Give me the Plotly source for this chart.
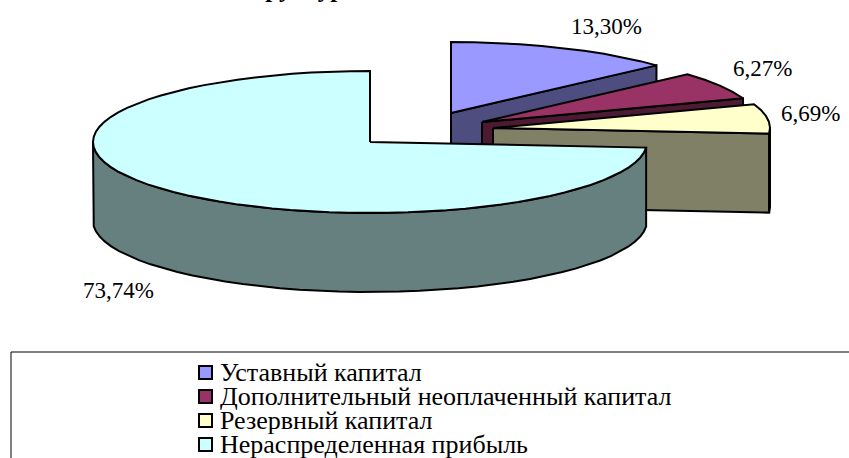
import numpy as np
import plotly.graph_objects as go

categories = ["Уставный капитал", "Дополнительный неоплаченный капитал", "Резервный капитал", "Нераспределенная прибыль"]
values = [13.30, 6.27, 6.69, 73.74]
labels = ["13,30%", "6,27%", "6,69%", "73,74%"]
top_colors = ["#9999FF", "#993366", "#FFFFCC", "#CCFFFF"]
side_colors = ["#4D4D80", "#4D1A33", "#808066", "#668080"]
title_text = "Структура капитала"

W, H = 849, 458
RX, RY, DEPTH = 277, 71, 79
apexes = [(451, 113), (482, 122), (493, 128), (370, 142)]
label_pos = [(606, 26), (762, 68), (810, 113), (118, 290)]
LINE = dict(color="black", width=2)
FONT = "Liberation Serif"

fig = go.Figure()


def poly(xs, ys, color):
    fig.add_trace(go.Scatter(
        x=list(xs) + [xs[0]], y=list(ys) + [ys[0]], mode="lines", fill="toself",
        fillcolor=color, line=LINE, hoverinfo="skip", showlegend=False))


def arc(apex, a, b):
    t = np.radians(np.linspace(a, b, max(int(abs(b - a) / 4), 4)))
    return apex[0] + RX * np.sin(t), apex[1] - RY * np.cos(t)


edges = np.concatenate([[0], np.cumsum(values) * 3.6])
for i, val in enumerate(values):
    a, b = edges[i], edges[i + 1]
    apex = apexes[i]
    # flat cut face of the end of the slice (visible for the slices at the back)
    if b < 180:
        ex, ey = arc(apex, b, b)
        poly([apex[0], ex[0], ex[0], apex[0]],
             [apex[1], ey[0], ey[0] + DEPTH, apex[1] + DEPTH], side_colors[i])
    # outer wall: lower half of the rim
    w0, w1 = max(a, 90), min(b, 270)
    if w1 > w0:
        ax, ay = arc(apex, w0, w1)
        poly(np.r_[ax, ax[::-1]], np.r_[ay, ay[::-1] + DEPTH], side_colors[i])
    # top face
    ax, ay = arc(apex, a, b)
    poly(np.r_[apex[0], ax], np.r_[apex[1], ay], top_colors[i])

annotations = []
for text, (x, y) in zip(labels, label_pos):
    annotations.append(dict(x=x, y=y, text=text, showarrow=False, xref="x", yref="y",
                            font=dict(family=FONT, size=23, color="black")))
# the title is cut off by the top edge of the picture, as in the reference
annotations.append(dict(x=352 / W, y=1, text="<b>" + title_text + "</b>", showarrow=False,
                        xref="paper", yref="paper", yanchor="bottom", yshift=-4,
                        font=dict(family=FONT, size=25, color="black")))

shapes = [
    dict(type="line", x0=11, x1=W, y0=352, y1=352, line=dict(color="black", width=1)),
    dict(type="line", x0=11, x1=11, y0=352, y1=H, line=dict(color="black", width=1)),
]
for i, name in enumerate(categories):
    yc = 373 + 24 * i
    shapes.append(dict(type="rect", x0=199, x1=212, y0=yc - 7, y1=yc + 6,
                       fillcolor=top_colors[i], line=dict(color="black", width=2)))
    annotations.append(dict(x=218, y=yc - 1, text=name, showarrow=False, xanchor="left", xref="x", yref="y",
                            font=dict(family=FONT, size=26, color="black")))

fig.update_layout(
    width=W, height=H, margin=dict(l=0, r=0, t=0, b=0),
    paper_bgcolor="white", plot_bgcolor="white", showlegend=False,
    xaxis=dict(range=[0, W], visible=False, fixedrange=True),
    yaxis=dict(range=[H, 0], visible=False, fixedrange=True),
    annotations=annotations, shapes=shapes,
)
fig.write_html("out.html", config=dict(displayModeBar=False),
               post_script="document.body.style.margin='0';document.body.style.overflow='hidden';")
